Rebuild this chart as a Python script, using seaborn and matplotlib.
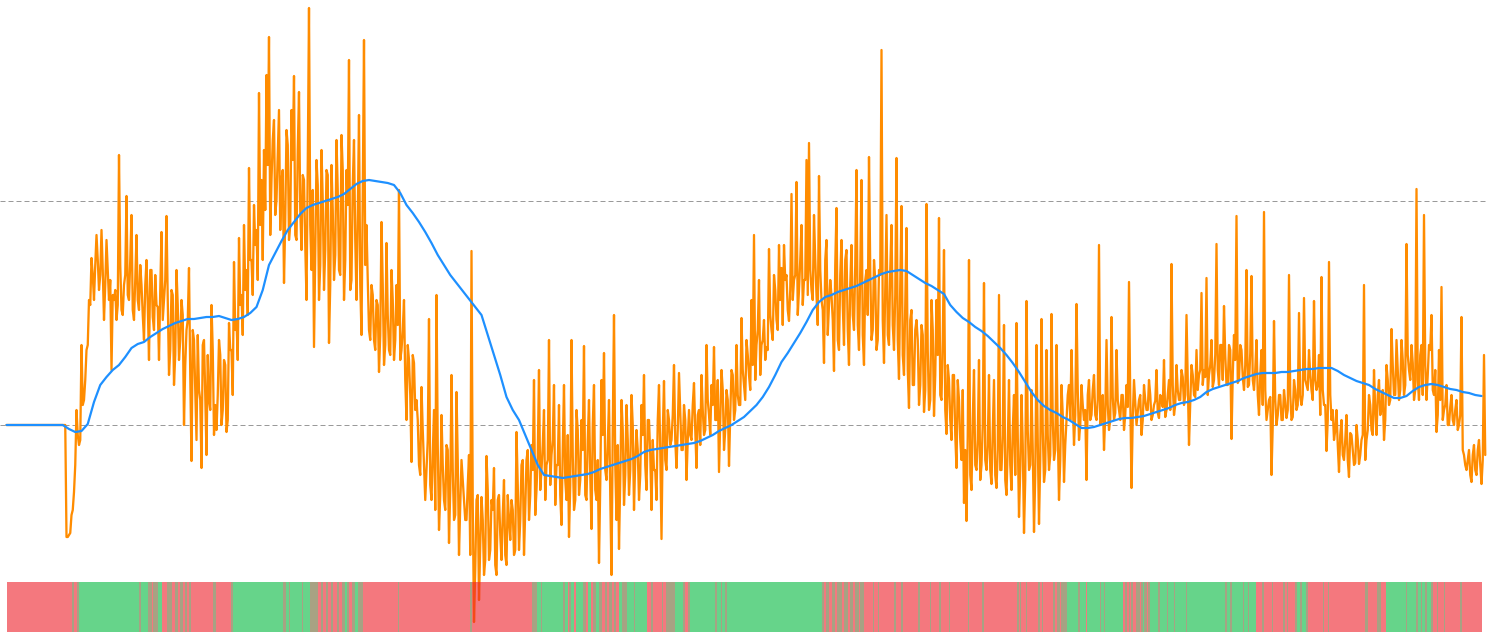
import numpy as np
import pandas as pd
import matplotlib
matplotlib.use('Agg')
import matplotlib.pyplot as plt
from matplotlib.colors import ListedColormap
import seaborn as sns

# orange series (lower dashed level = 0, upper = 224)
flat_start = [0] * 24
# swings and spikes
spike_1 = [-112,-110,-90,-67,15,-20,80,25,75,125,167,125,190,135,195,105,185,125,55,125,
           105,270,115,140,229,125,210,105,190,115,140,85,165,65,155,95,120,65,193,125,
           209,50,135,40,155,65,125,0,95,157,-36,85,-15,35,-43,85,-30,25,120,-10,
           -5,85,0,65,-7,102,75,163,105,187,130,200,155,257,165,220,195,332,245,275]
spike_2 = [350,388,245,305,225,315,245,142,295,185,315,349,185,333,175,245,125,417,155,78,
           265,125,275,135,255,82,260,145,285,155,290,125,255,365,145,285,125,310,90,385,
           200,95,140,85,125,53,203,60,182,75,155,65,140,235,75,125,5,65,-37,62,
           25,-40,38,-40,-45,106,-75,15,130,-105,10,-75,-20,-118,50,-95,33,-130,-35,-75]
spike_3 = [-95,-30,174,-197,-75,-175,-72,-150,-31,-135,-75,-43,-150,-70,-135,-55,-140,-95,-75,-130,
           -7,-125,-40,-130,-35,-95,-20,45,-65,55,-45,15,-40,85,-30,40,-40,20,-100,40,
           -75,-112,85,-85,15,-70,5,79,-75,25,-104,40,-75,-138,45,72,-55,25,-150,110,
           -95,-124,25,-80,20,-70,30,-85,-5,-75,20,50,-65,5,-85,-45,-75,40,-114,44]
spike_4 = [-45,5,-15,60,-43,52,-25,20,-55,15,-15,42,-43,15,50,-10,80,10,40,78,
           5,-47,55,-25,35,-41,55,5,80,20,107,40,85,50,125,190,80,145,80,105,
           78,176,95,150,105,180,157,180,150,104,231,145,243,135,200,145,265,282,135,210,
           130,249,125,62,185,120,130,54,217,75,185,80,175,60,180,95,255,75,245,60]
spike_5 = [155,268,85,165,75,155,375,62,210,80,200,75,267,46,219,50,197,17,115,40,
           105,20,100,13,221,15,125,9,125,207,25,175,-9,45,-15,50,-43,25,-35,-78,
           -96,165,-65,55,-45,65,-40,142,-45,50,-59,45,-63,130,-45,100,-70,45,-65,30,
           102,-92,30,-108,124,-45,35,-107,80,-99,106,-57,75,-45,111,-35,80,-75,40,-57]
spike_6 = [5,40,75,-20,121,-15,40,5,-55,45,10,50,5,180,5,-25,85,-5,108,5,
           75,15,30,-5,40,143,-63,45,0,25,-10,40,15,45,5,20,55,7,25,65,
           15,45,161,10,60,25,55,20,110,-20,60,30,75,50,132,55,147,50,85,45,
           181,40,80,119,40,80,-14,90,209,45,75,35,155,40,149,35,85,10,75,213]
spike_7 = [5,25,-50,104,0,30,5,35,7,150,5,45,15,112,20,127,40,75,35,124,
           35,70,148,20,-26,163,5,-15,15,-47,5,-35,10,-52,-10,-40,0,-39,-15,140,
           -15,30,-5,55,-10,45,15,-15,60,20,96,30,85,25,85,30,181,55,80,25,
           236,25,80,210,25,80,110,30,-7,75,138,15,40,0,30,0,25,0,108,-30,
           -45,-25,-57,-20,-50,-15,-59,70]
# the dense middle of the band, read between the spikes
core_1 = [-112,-108,-85,-40,-10,-15,20,45,80,120,150,160,165,150,155,140,155,145,130,135,
          120,160,110,150,130,165,115,145,125,160,110,140,120,155,108,150,118,135,105,145,
          125,75,130,70,120,85,110,60,105,50,95,35,90,25,80,30,70,15,75,20,
          30,70,15,60,5,75,30,95,65,120,90,135,110,165,130,180,145,200,165,215]
core_2 = [260,190,285,210,270,195,255,205,280,200,265,190,275,215,250,180,260,200,235,175,
          240,160,225,175,250,140,215,170,235,150,255,165,220,135,240,185,210,140,230,160,
          145,85,130,75,120,90,140,80,110,70,125,85,100,65,95,45,80,30,70,15,
          5,-50,-5,-75,-15,-60,-30,-85,-20,-70,-40,-85,-25,-65,-45,-90,-35,-80,-55,-95]
core_3 = [-60,-130,-80,-145,-70,-120,-95,-135,-65,-125,-85,-140,-75,-110,-90,-130,-70,-115,-85,-125,
          -60,-95,-35,-85,-25,-70,-45,-90,-30,-65,-20,-75,-35,-60,-15,-80,-40,-70,-25,-55,
          -10,-60,-30,-75,-5,-55,-25,-70,-15,-50,0,-65,-35,-60,-10,-45,-20,-70,-5,-40,
          -20,-55,-5,-50,-15,-45,0,-35,-25,-50,-10,-40,5,-30,-15,-45,5,-25,-10,-35]
core_4 = [15,-20,10,-15,-5,15,-25,5,-15,-10,20,-5,10,-20,15,-5,25,-10,20,5,
          45,5,35,-5,25,10,50,15,30,20,55,25,70,35,60,45,95,50,85,65,
          75,110,85,135,95,125,100,145,115,135,125,150,110,165,120,145,130,155,125,165,
          100,155,115,165,90,145,105,160,85,150,120,165,95,140,110,160,100,155,90,145]
core_5 = [110,155,95,145,85,150,105,135,90,155,100,130,85,140,70,120,55,105,40,95,
          85,40,90,35,75,25,95,50,70,30,85,15,60,5,50,-10,45,-15,35,-25,
          -10,-50,5,-40,-15,-55,0,-35,-20,-45,-5,-50,-25,-45,-10,-55,-20,-40,-5,-50,
          -10,-45,-20,-55,-5,-40,-25,-50,-15,-35,-5,-45,-10,-30,5,-25,-5,-35,10,-20]
core_6 = [30,5,25,10,35,0,20,15,30,5,35,10,25,0,30,10,20,5,28,12,
          25,5,30,10,18,28,8,22,12,30,5,25,15,30,10,24,12,30,18,8,
          30,15,40,20,35,25,48,30,42,22,50,28,35,55,40,48,30,60,38,70,
          55,80,45,70,40,75,50,65,42,80,48,60,38,72,45,55,30,50,20,35]
core_7 = [15,28,0,25,10,30,5,22,15,30,8,35,20,28,30,45,35,50,25,45,
          40,10,35,20,5,30,15,-5,-20,-10,-30,-15,-35,-8,-25,-38,-15,-30,-10,-35,
          -5,20,-10,15,30,10,35,5,45,25,60,30,55,35,65,40,70,45,62,35,
          45,70,30,60,50,75,35,55,10,25,5,20,0,18,5,15,-5,10,-25,-40,
          -35,-50,-30,-45,-25,-40,-35,-30]
spike_values = flat_start + spike_1 + spike_2 + spike_3 + spike_4 + spike_5 + spike_6 + spike_7
core_values = flat_start + core_1 + core_2 + core_3 + core_4 + core_5 + core_6 + core_7

# blue smoothed line, one value every 5 orange samples
blue_values = [0,0,0,0,0,0,0,0,0,0,-4,-7,-6,1,23,40,48,55,60,68,77,81,83,88,92,96,99,102,104,106,106,107,108,108,109,107,
               105,106,108,112,118,135,160,172,184,195,203,211,217,220,222,224,226,228,231,236,241,244,245,244,243,242,240,
               232,220,212,203,193,182,170,160,150,142,134,126,118,110,90,70,50,28,15,5,-10,-25,-40,-50,-51,-52,-53,-52,-51,
               -50,-49,-47,-44,-42,-40,-38,-36,-34,-31,-27,-25,-24,-23,-22,-21,-20,-19,-18,-16,-13,-10,-6,-3,0,4,8,14,20,28,
               38,50,63,72,82,92,103,115,123,128,130,133,135,137,139,142,145,148,151,153,154,155,154,150,146,142,139,135,131,
               120,113,107,103,98,94,89,83,77,70,62,53,43,33,25,19,15,12,8,5,1,-3,-3,-2,0,2,4,6,7,7,8,9,11,13,15,17,20,22,23,
               25,28,33,36,38,40,42,44,47,49,51,52,52,52,53,53,54,55,56,56,57,57,57,54,50,47,44,42,40,36,33,30,27,27,29,34,38,
               40,41,40,38,36,35,33,32,30,29]

# reference levels
levels = [0, 224]

# bottom ribbon: (state, run length), r = red, g = green, m = mixed
ribbon_1 = [('r',65),('m',2),('r',3),('m',2),('g',60),('m',2),('g',7),('m',4),('r',1),('m',5),('g',4),('r',5),('m',5),('r',3),
            ('m',3),('r',2),('m',3),('r',2),('m',2),('r',2),('m',2),('r',22),('m',3),('r',15),('m',2),('g',50),('m',3),('g',3),
            ('m',1),('g',12),('m',1),('g',7),('m',8),('r',3),('m',2),('r',3),('m',2),('r',3),('m',2),('r',4),('m',2),('r',3),
            ('m',3),('g',2),('m',2),('r',3),('m',3),('g',3),('m',5),('r',35),('m',1),('r',71),('m',2),('r',60)]
ribbon_2 = [('m',5),('g',4),('m',1),('g',21),('m',2),('g',3),('r',1),('m',2),('g',3),('r',2),('g',7),('m',3),('r',2),('g',3),
            ('r',2),('m',3),('g',3),('m',3),('r',3),('m',2),('r',2),('m',3),('r',2),('m',2),('r',3),('g',3),('m',5),('g',7),
            ('m',1),('g',12),('r',4),('m',2),('r',9),('m',1),('r',3),('m',9),('g',8),('m',2),('r',3),('m',2),('g',25),('m',2),
            ('g',4),('m',1),('g',3),('m',2),('g',95)]
ribbon_3 = [('m',2),('r',2),('m',3),('r',3),('m',3),('r',2),('m',5),('r',2),('m',4),('r',2),('m',3),('r',2),('m',4),('r',1),
            ('m',4),('r',9),('m',1),('r',4),('m',1),('r',15),('m',2),('r',5),('m',2),('r',15),('m',2),('r',10),('m',1),('r',8),
            ('m',2),('r',8),('m',1),('r',18),('m',1),('r',13),('m',2),('r',16)]
ribbon_4 = [('r',17),('m',2),('r',1),('m',1),('r',5),('m',1),('r',11),('m',2),('r',2),('m',1),('r',10),('m',2),('r',2),('m',3),
            ('r',1),('m',6),('g',11),('m',2),('g',6),('r',1),('g',13),('m',1),('g',3),('m',1),('g',18),('r',2),('m',2),('r',2),
            ('m',1),('r',1),('m',2),('r',3),('m',4),('r',1),('m',2),('g',1),('m',3),('r',1),('m',2),('g',8),('m',2),('g',7),
            ('m',1),('g',6),('m',1),('g',11),('m',1),('g',38),('m',2),('g',3),('m',2),('g',11),('m',1),('g',4),('m',1),('g',7)]
ribbon_5 = [('r',6),('m',2),('r',8),('m',1),('r',10),('m',2),('r',2),('m',1),('r',7),('m',2),('g',3),('m',2),('g',4),('m',2),
            ('r',15),('m',1),('r',4),('m',1),('r',36),('m',3),('r',9),('m',4),('r',5),('g',20),('m',1),('g',9),('m',2),('g',3),
            ('m',1),('g',3),('m',2),('g',4),('m',2),('r',4),('m',1),('r',6),('m',1),('r',15),('m',2),('r',20)]
ribbon_runs = ribbon_1 + ribbon_2 + ribbon_3 + ribbon_4 + ribbon_5
state_codes = {'r': 0, 'g': 1, 'm': 2}

ribbon = np.repeat([state_codes[s] for s, _ in ribbon_runs], [n for _, n in ribbon_runs])

sns.set_theme(style='white')
W, H = 1490, 633
STEP = 1.25  # px per orange sample
fig = plt.figure(figsize=(W / 100, H / 100), dpi=100, facecolor='white')

# main axes fills the whole figure
ax = fig.add_axes([0, 0, 1, 1])

orange_values = np.column_stack([spike_values, core_values]).ravel()
df_orange = pd.DataFrame({'step': np.arange(len(orange_values)), 'value': orange_values})
df_blue = pd.DataFrame({'step': np.arange(len(blue_values)) * 5, 'value': blue_values})
sns.lineplot(data=df_orange, x='step', y='value', color='#FF8C00', linewidth=1.65,
             estimator=None, errorbar=None, ax=ax, zorder=2)
sns.lineplot(data=df_blue, x='step', y='value', color='#1E90FF', linewidth=1.6,
             estimator=None, errorbar=None, ax=ax, zorder=3)
ax.set_xlim(-6.5 / STEP, (W - 6.5) / STEP)
ax.set_ylim(425 - H, 425)
ax.axis('off')
for lev in levels:
    ax.axhline(lev, xmin=0, xmax=1487 / W, color='#9a9a9a', lw=0.72, linestyle=(0, (5, 3)), zorder=1)

# ribbon on top, semi transparent so the orange dip shows through
ax2 = fig.add_axes([7 / W, 1 - 632 / H, 1475 / W, 50 / H], zorder=5)
ax2.patch.set_alpha(0)
cmap = ListedColormap(['#EE1E28', '#00B83C', '#6D6430'])
sns.heatmap(np.array([ribbon]), cmap=cmap, vmin=-0.5, vmax=2.5, cbar=False, alpha=0.6,
            xticklabels=False, yticklabels=False, ax=ax2)
ax2.set_xlabel('')
ax2.set_ylabel('')

fig.savefig('out.png', dpi=100, facecolor='white')
